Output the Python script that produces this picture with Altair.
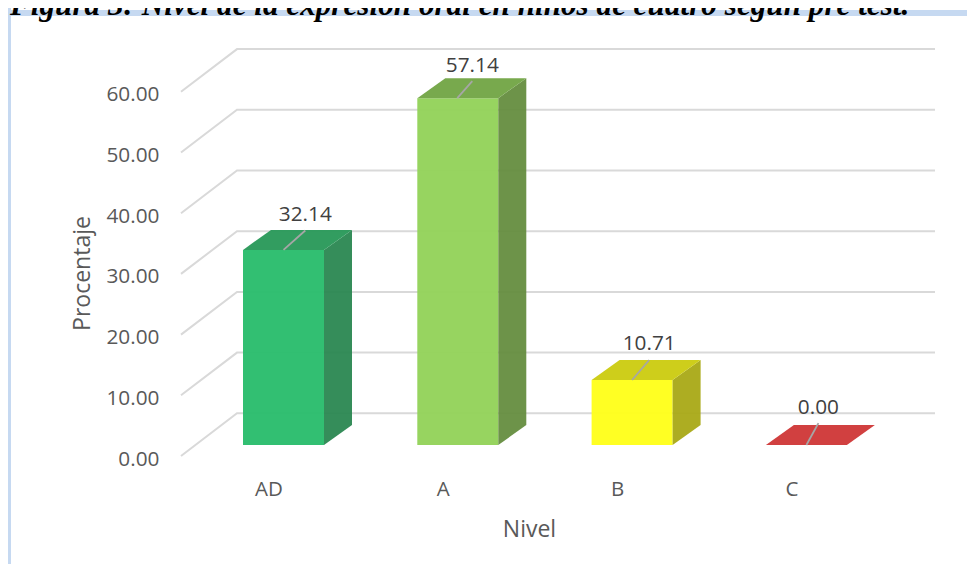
import altair as alt
import pandas as pd

# ---- values ----
levels = ["AD", "A", "B", "C"]
values = [32.14, 57.14, 10.71, 0.00]
labels = ["32.14", "57.14", "10.71", "0.00"]
front_colors = ["#2ABC6C", "#93D25A", "#FFFF1A", "#D03A3A"]
top_colors = ["#2B9A5B", "#74A647", "#CCCC14", "#D03A3A"]
side_colors = ["#288650", "#648C3E", "#A8A814", "#D03A3A"]
grid_levels = [0, 10, 20, 30, 40, 50, 60]
# leader line ends and label centres, per bar, as offsets in category / percent units
leader_x0 = [0.000, -0.003, 0.000, 0.000]
leader_x1 = [0.125, 0.083, 0.098, 0.069]
leader_y1 = [3.20, 2.80, 3.30, 3.60]
label_x = [0.125, 0.083, 0.098, 0.069]
label_y = [5.70, 5.30, 5.85, 6.10]
caption = "Figura 3: Nivel de la expresión oral en niños de cuatro según pre test."

# ---- layout constants ----
W, H = 959, 556
PX_PER_UNIT = 6.07
PX_PER_CAT = 174.3
BAR_W = 81.0 / PX_PER_CAT
DEPTH_X = 28.0 / PX_PER_CAT
DEPTH_Y = 20.0 / PX_PER_UNIT
CAT0_PAGE = 283.5   # centre of the first bar's front
BASE_PAGE = 445.0   # y of bar bases


def xdom(cat0):
    return [(8 - cat0) / PX_PER_CAT, (8 + W - cat0) / PX_PER_CAT]


def ydom(base):
    return [(base - (8 + H)) / PX_PER_UNIT, (base - 8) / PX_PER_UNIT]


X_DOM = xdom(CAT0_PAGE)
Y_DOM = ydom(BASE_PAGE)


def X(f="x"):
    return alt.X(f"{f}:Q", scale=alt.Scale(domain=X_DOM), axis=None)


def Y(f="y"):
    return alt.Y(f"{f}:Q", scale=alt.Scale(domain=Y_DOM), axis=None)


# ---- tables built from the arrays ----
grid_front = -11.0 / PX_PER_UNIT
grid_back = 31.7 / PX_PER_UNIT
grid_x = [(181 - CAT0_PAGE) / PX_PER_CAT, (237 - CAT0_PAGE) / PX_PER_CAT, (935 - CAT0_PAGE) / PX_PER_CAT]
grid_rows = []
for g in grid_levels:
    for order, (gx, off) in enumerate(zip(grid_x, [grid_front, grid_back, grid_back])):
        grid_rows.append({"g": g, "o": order, "x": gx, "y": g + off})
grid_df = pd.DataFrame(grid_rows)

front_rows, top_rows, side_rows, leader_rows, label_rows = [], [], [], [], []
for i, (lv, v) in enumerate(zip(levels, values)):
    x0, x1 = i - BAR_W / 2, i + BAR_W / 2
    front_rows.append({"lv": lv, "x": x0, "x2": x1, "y": 0, "y2": v, "c": front_colors[i]})
    for px, lo, hi in [
        (x0, v, v),
        (x0 + DEPTH_X, v, v + DEPTH_Y),
        (x1, v, v + DEPTH_Y),
        (x1 + DEPTH_X, v + DEPTH_Y, v + DEPTH_Y),
    ]:
        top_rows.append({"lv": lv, "x": px, "y": lo, "y2": hi, "c": top_colors[i]})
    for px, lo, hi in [(x1, 0, v), (x1 + DEPTH_X, DEPTH_Y, v + DEPTH_Y)]:
        side_rows.append({"lv": lv, "x": px, "y": lo, "y2": hi, "c": side_colors[i]})
    leader_rows.append({"lv": lv, "o": 0, "x": i + leader_x0[i], "y": v})
    leader_rows.append({"lv": lv, "o": 1, "x": i + leader_x1[i], "y": v + leader_y1[i]})
    label_rows.append({"t": labels[i], "x": i + label_x[i], "y": v + label_y[i]})

front_df = pd.DataFrame(front_rows)
top_df = pd.DataFrame(top_rows)
side_df = pd.DataFrame(side_rows)
leader_df = pd.DataFrame(leader_rows)
label_df = pd.DataFrame(label_rows)
axis_df = pd.DataFrame({"x": [0, 3], "y": [0, 60]})

# ---- layers ----
band_left = alt.Chart(axis_df).mark_rect(color="#C6D9F1").encode(
    x=alt.value(0), x2=alt.value(3), y=alt.value(0), y2=alt.value(H)
)
band_top = alt.Chart(axis_df).mark_rect(color="#C6D9F1").encode(
    x=alt.value(0), x2=alt.value(W), y=alt.value(2), y2=alt.value(8)
)
caption_text = alt.Chart(pd.DataFrame({"t": [caption]})).mark_text(
    font="Liberation Serif", fontSize=31.2, fontWeight="bold", fontStyle="italic",
    align="left", baseline="alphabetic", color="#000000",
).encode(x=alt.value(2), y=alt.value(7), text="t:N")

grid = alt.Chart(grid_df).mark_line(color="#D9D9D9", strokeWidth=2).encode(
    x=X(), y=Y(), detail="g:N", order="o:Q"
)
front = alt.Chart(front_df).mark_rect(opacity=0.96).encode(
    x=X(), x2="x2:Q", y=Y(), y2="y2:Q", color=alt.Color("c:N", scale=None)
)
top = alt.Chart(top_df).mark_area(opacity=0.97).encode(
    x=X(), y=Y(), y2="y2:Q", detail="lv:N", color=alt.Color("c:N", scale=None)
)
side = alt.Chart(side_df).mark_area(opacity=0.94).encode(
    x=X(), y=Y(), y2="y2:Q", detail="lv:N", color=alt.Color("c:N", scale=None)
)
leader = alt.Chart(leader_df).mark_line(color="#A6A6A6", strokeWidth=1.8).encode(
    x=X(), y=Y(), detail="lv:N", order="o:Q"
)
value_text = alt.Chart(label_df).mark_text(
    font="Open Sans", fontSize=20.8, color="#404040"
).encode(x=X(), y=Y(), text="t:N")

# real axes, on scales shifted to the floor's front edge
AX_X_DOM = xdom(268.5)
AX_Y_DOM = ydom(459.0)
axes = alt.Chart(axis_df).mark_point(opacity=0).encode(
    x=alt.X(
        "x:Q",
        scale=alt.Scale(domain=AX_X_DOM),
        axis=alt.Axis(
            values=[0, 1, 2, 3],
            labelExpr="['AD','A','B','C'][round(datum.value)]",
            title="Nivel", titleFont="Open Sans", titleFontSize=23, titleFontWeight="normal",
            titleColor="#595959", titleX=521, titleY=39,
            labelFont="Open Sans", labelFontSize=20.5, labelColor="#595959",
            labelPadding=0, ticks=False, domain=False, grid=False, offset=-85,
            labelFlush=False, labelOverlap=False,
        ),
    ),
    y=alt.Y(
        "y:Q",
        scale=alt.Scale(domain=AX_Y_DOM),
        axis=alt.Axis(
            values=grid_levels, format=".2f",
            title="Procentaje", titleFont="Open Sans", titleFontSize=23, titleFontWeight="normal",
            titleColor="#595959", titleX=-65, titleY=265,
            labelFont="Open Sans", labelFontSize=20.8, labelColor="#595959",
            labelPadding=0, ticks=False, domain=False, grid=False, offset=-151,
            labelOverlap=False, labelFlush=False,
        ),
    ),
)

chart = (
    alt.layer(grid, band_left, band_top, caption_text, front, side, top, leader, value_text, axes)
    .resolve_scale(x="independent", y="independent")
    .properties(width=W, height=H, padding=0, autosize=alt.AutoSizeParams(type="none"), background="white")
    .configure_view(stroke=None)
)

chart.save("out.html", embed_options={"renderer": "svg", "actions": False})
